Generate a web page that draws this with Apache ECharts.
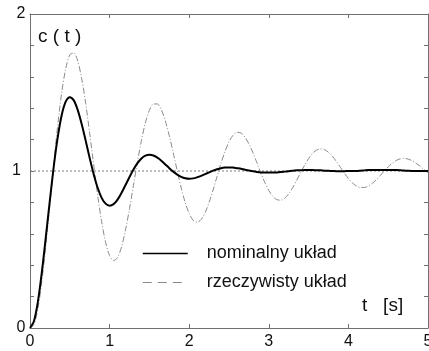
<!DOCTYPE html>
<html>
<head>
<meta charset="utf-8">
<script src="https://cdn.jsdelivr.net/npm/echarts@6/dist/echarts.min.js"></script>
<style>
  html, body { margin: 0; padding: 0; background: #fff; }
  #chart { width: 429px; height: 351px; }
</style>
</head>
<body>
<div id="chart"></div>
<script>
// Time samples [s]
const timeS = [
  0.00, 0.05, 0.10, 0.15, 0.20, 0.25, 0.30, 0.35, 0.40, 0.45,
  0.50, 0.55, 0.60, 0.65, 0.70, 0.75, 0.80, 0.85, 0.90, 0.95,
  1.00, 1.05, 1.10, 1.15, 1.20, 1.25, 1.30, 1.35, 1.40, 1.45,
  1.50, 1.55, 1.60, 1.65, 1.70, 1.75, 1.80, 1.85, 1.90, 1.95,
  2.00, 2.05, 2.10, 2.15, 2.20, 2.25, 2.30, 2.35, 2.40, 2.45,
  2.50, 2.55, 2.60, 2.65, 2.70, 2.75, 2.80, 2.85, 2.90, 2.95,
  3.00, 3.05, 3.10, 3.15, 3.20, 3.25, 3.30, 3.35, 3.40, 3.45,
  3.50, 3.55, 3.60, 3.65, 3.70, 3.75, 3.80, 3.85, 3.90, 3.95,
  4.00, 4.05, 4.10, 4.15, 4.20, 4.25, 4.30, 4.35, 4.40, 4.45,
  4.50, 4.55, 4.60, 4.65, 4.70, 4.75, 4.80, 4.85, 4.90, 4.95,
  5.00
];

// Step response of the nominal system
const nominalC = [
  0.000, 0.045, 0.170, 0.360, 0.585, 0.815, 1.035, 1.220, 1.360, 1.443,
  1.470, 1.450, 1.388, 1.298, 1.192, 1.082, 0.980, 0.893, 0.829, 0.792,
  0.779, 0.789, 0.818, 0.861, 0.911, 0.962, 1.010, 1.050, 1.080, 1.098,
  1.104, 1.099, 1.085, 1.066, 1.042, 1.018, 0.996, 0.977, 0.963, 0.954,
  0.951, 0.953, 0.960, 0.969, 0.980, 0.991, 1.002, 1.011, 1.018, 1.022,
  1.023, 1.022, 1.018, 1.014, 1.008, 1.003, 0.998, 0.994, 0.991, 0.990,
  0.990, 0.990, 0.991, 0.993, 0.996, 0.999, 1.002, 1.004, 1.005, 1.006,
  1.006, 1.006, 1.005, 1.004, 1.002, 1.001, 1.000, 0.999, 0.999, 0.999,
  1.000, 1.000, 1.000, 1.002, 1.004, 1.006, 1.006, 1.006, 1.006, 1.006,
  1.006, 1.006, 1.006, 1.005, 1.003, 1.001, 1.000, 1.000, 1.000, 1.000,
  1.000
];

// Step response of the real system
const realC = [
  0.000, 0.022, 0.126, 0.302, 0.531, 0.789, 1.053, 1.299, 1.505, 1.655,
  1.739, 1.753, 1.700, 1.587, 1.429, 1.239, 1.039, 0.846, 0.677, 0.545,
  0.461, 0.429, 0.449, 0.517, 0.625, 0.760, 0.909, 1.059, 1.195, 1.308,
  1.386, 1.427, 1.427, 1.390, 1.319, 1.224, 1.115, 1.000, 0.892, 0.799,
  0.729, 0.686, 0.674, 0.691, 0.735, 0.800, 0.879, 0.965, 1.050, 1.125,
  1.186, 1.227, 1.246, 1.242, 1.216, 1.173, 1.117, 1.053, 0.988, 0.927,
  0.876, 0.839, 0.818, 0.814, 0.827, 0.855, 0.894, 0.940, 0.990, 1.037,
  1.079, 1.112, 1.133, 1.141, 1.136, 1.119, 1.093, 1.060, 1.023, 0.986,
  0.952, 0.924, 0.905, 0.895, 0.895, 0.904, 0.921, 0.944, 0.971, 1.000,
  1.026, 1.049, 1.067, 1.077, 1.081, 1.076, 1.066, 1.050, 1.030, 1.009,
  0.988
];

// Steady-state reference level
const refTime = [0, 5];
const refLevel = [1, 1];

const seriesNames = ['nominalny układ', 'rzeczywisty układ'];
const xTicks = [0, 1, 2, 3, 4, 5];
const yLabelled = [0, 1, 2];

const pairs = (xs, ys) => xs.map((x, i) => [x, ys[i]]);

const FONT = '"Liberation Sans", Arial, Helvetica, sans-serif';
const FRAME = '#707070';

const chart = echarts.init(document.getElementById('chart'), null, { renderer: 'canvas' });

const baseX = {
  type: 'value', min: xTicks[0], max: xTicks[xTicks.length - 1], interval: 1,
  axisLine: { show: true, onZero: false, lineStyle: { color: FRAME, width: 1 } },
  axisTick: { show: true, inside: true, length: 4, lineStyle: { color: FRAME } },
  splitLine: { show: false }
};
const baseY = {
  type: 'value', min: 0, max: 2, interval: 0.2,
  axisLine: { show: true, onZero: false, lineStyle: { color: FRAME, width: 1 } },
  axisTick: { show: true, inside: true, length: 4, lineStyle: { color: FRAME } },
  splitLine: { show: false }
};

// Legend keys show the line only, without a marker
const noMarker = { color: 'transparent', opacity: 0, borderWidth: 0 };

chart.setOption({
  animation: false,
  backgroundColor: '#fff',
  grid: { left: 30, right: 1, top: 14, bottom: 23, containLabel: false, outerBoundsMode: 'none' },
  xAxis: [
    Object.assign({}, baseX, {
      position: 'bottom',
      axisLabel: {
        show: true, margin: 6, color: '#111', fontFamily: FONT, fontSize: 16,
        alignMinLabel: 'center', alignMaxLabel: 'center', hideOverlap: false
      }
    }),
    Object.assign({}, baseX, { position: 'top', axisLabel: { show: false } })
  ],
  yAxis: [
    Object.assign({}, baseY, {
      position: 'left',
      axisLabel: {
        show: true, margin: 9, color: '#111', fontFamily: FONT, fontSize: 16,
        alignMinLabel: 'middle', alignMaxLabel: 'middle',
        formatter: v => {
          const r = Math.round(v);
          return (Math.abs(v - r) < 1e-6 && yLabelled.includes(r)) ? String(r) : '';
        }
      }
    }),
    Object.assign({}, baseY, { position: 'right', axisLabel: { show: false } })
  ],
  legend: {
    orient: 'vertical',
    left: 142, top: 244.5, padding: 0,
    itemWidth: 45, itemHeight: 14, itemGap: 11,
    selectedMode: false,
    textStyle: { fontFamily: FONT, fontSize: 18, color: '#111', padding: [0, 0, 0, 14] },
    data: [
      { name: seriesNames[0], itemStyle: noMarker, lineStyle: { color: '#000', width: 1.5, type: 'solid' } },
      { name: seriesNames[1], itemStyle: noMarker, lineStyle: { color: '#8a8a8a', width: 1, type: [9, 6] } }
    ]
  },
  graphic: [
    { type: 'text', left: 38, top: 27, style: { text: 'c ( t )', font: '19px ' + FONT, fill: '#111' } },
    { type: 'text', left: 362, top: 296, style: { text: 't   [s]', font: '19px ' + FONT, fill: '#111' } }
  ],
  series: [
    {
      name: 'ref', type: 'line', data: pairs(refTime, refLevel),
      symbol: 'none', silent: true, z: 1,
      lineStyle: { color: '#7a7a7a', width: 1, type: [2, 2] }
    },
    {
      name: seriesNames[1], type: 'line', data: pairs(timeS, realC),
      symbol: 'none', smooth: 0.3, z: 2,
      lineStyle: { color: '#8a8a8a', width: 1, type: [6, 2, 1, 2] }
    },
    {
      name: seriesNames[0], type: 'line', data: pairs(timeS, nominalC),
      symbol: 'none', smooth: 0.3, z: 3,
      lineStyle: { color: '#000', width: 2 }
    }
  ]
});
</script>
</body>
</html>
